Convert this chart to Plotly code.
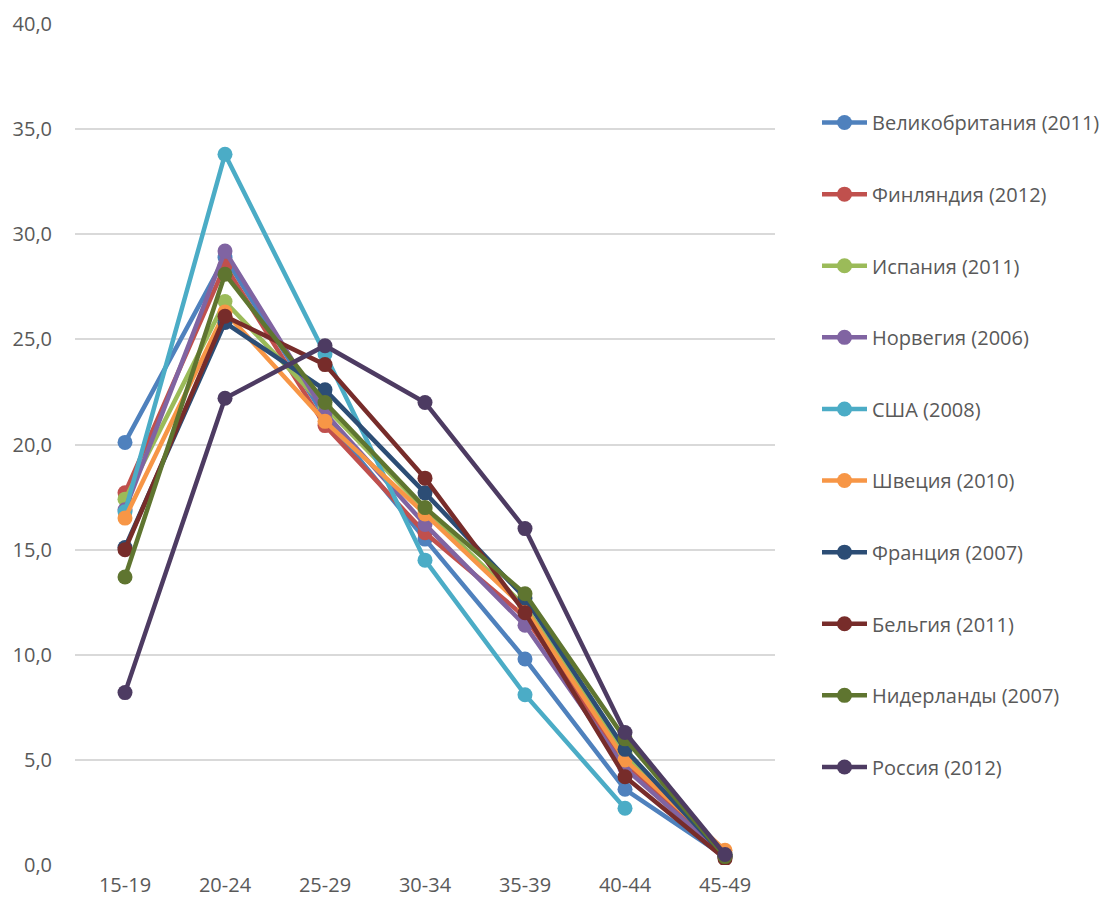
import plotly.graph_objects as go

age_groups = ["15-19", "20-24", "25-29", "30-34", "35-39", "40-44", "45-49"]

uk_2011 = [20.1, 28.9, 21.3, 15.5, 9.8, 3.6, 0.4]
finland_2012 = [17.7, 28.5, 20.9, 15.8, 11.8, 4.9, 0.4]
spain_2011 = [17.4, 26.8, 21.8, 16.9, 12.3, 5.3, 0.5]
norway_2006 = [16.9, 29.2, 21.5, 16.2, 11.4, 4.6, 0.4]
usa_2008 = [16.8, 33.8, 24.3, 14.5, 8.1, 2.7, None]
sweden_2010 = [16.5, 26.3, 21.1, 16.7, 12.2, 5.0, 0.7]
france_2007 = [15.1, 25.8, 22.6, 17.7, 12.7, 5.5, 0.4]
belgium_2011 = [15.0, 26.1, 23.8, 18.4, 12.0, 4.2, 0.3]
netherlands_2007 = [13.7, 28.1, 22.0, 17.0, 12.9, 6.0, 0.4]
russia_2012 = [8.2, 22.2, 24.7, 22.0, 16.0, 6.3, 0.5]

series = [
    ("Великобритания (2011)", uk_2011, "#4F81BD"),
    ("Финляндия (2012)", finland_2012, "#C0504D"),
    ("Испания (2011)", spain_2011, "#9BBB59"),
    ("Норвегия (2006)", norway_2006, "#8064A2"),
    ("США (2008)", usa_2008, "#4BACC6"),
    ("Швеция (2010)", sweden_2010, "#F79646"),
    ("Франция (2007)", france_2007, "#2C4D75"),
    ("Бельгия (2011)", belgium_2011, "#772C2A"),
    ("Нидерланды (2007)", netherlands_2007, "#5F7530"),
    ("Россия (2012)", russia_2012, "#4D3B62"),
]

fig = go.Figure()
for i, (name, values, color) in enumerate(series):
    fig.add_trace(go.Scatter(
        x=age_groups, y=values, name=name, mode="lines+markers",
        line=dict(color=color, width=4.5),
        marker=dict(color=color, size=15),
        legendgroup=f"g{i}",
        connectgaps=False,
    ))

text_color = "#595959"
fig.update_layout(
    width=1110, height=906,
    margin=dict(l=75, r=335, t=24, b=41, autoexpand=False),
    paper_bgcolor="white", plot_bgcolor="white",
    font=dict(family="Open Sans", size=20, color=text_color),
    xaxis=dict(
        type="category", range=[-0.5, 6.5], automargin=False,
        showgrid=False, zeroline=False, showline=False,
        ticks="", tickfont=dict(size=20, color=text_color),
        ticklabelstandoff=6,
    ),
    yaxis=dict(
        range=[0, 40], dtick=5, tickformat=".1f", automargin=False,
        showgrid=True, gridcolor="#D9D9D9", gridwidth=2, zeroline=False,
        showline=False, ticks="", tickfont=dict(size=20, color=text_color),
        ticklabelstandoff=22,
    ),
    separators=", ",
    legend=dict(
        x=1.06, xanchor="left", y=0.906, yanchor="top",
        tracegroupgap=42.6, itemwidth=45,
        font=dict(size=20, color=text_color),
        bgcolor="rgba(0,0,0,0)",
    ),
    showlegend=True,
)

fig.write_html("out.html")
